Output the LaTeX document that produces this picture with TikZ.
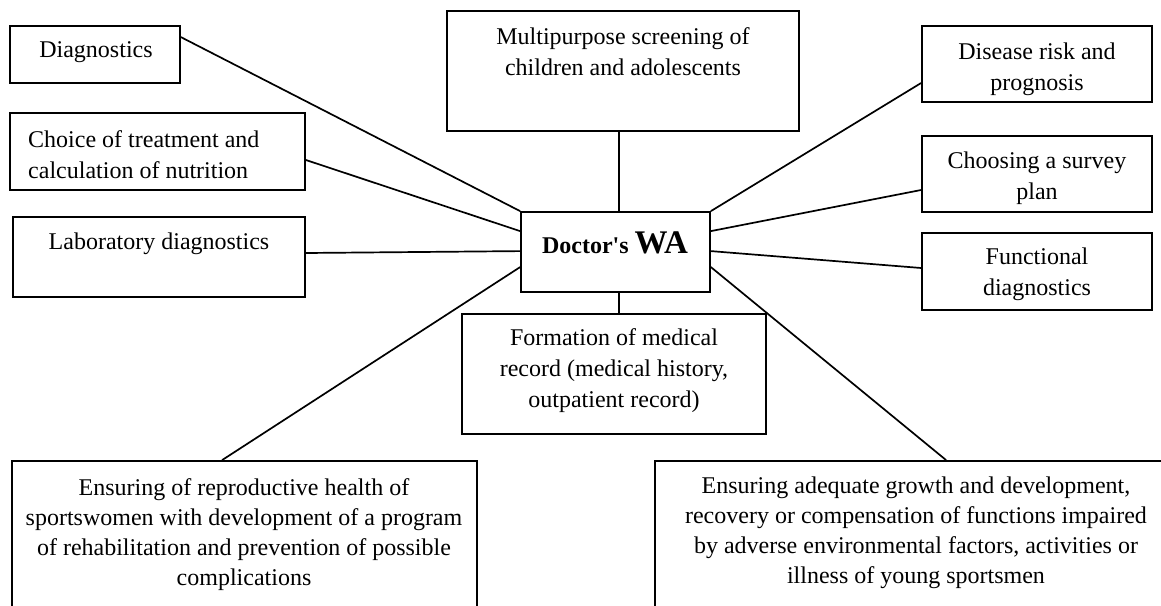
\documentclass[tikz,border=0pt]{standalone}
\usepackage{fontspec}
\setmainfont{Liberation Serif}[Ligatures=TeXOff]
\usetikzlibrary{calc}
\begin{document}
\begin{tikzpicture}[x=1pt,y=-1pt,
  box/.style={draw, line width=1.8pt, inner sep=0pt},
  txt/.style={font=\fontsize{24}{31}\selectfont, align=center, inner sep=0pt},
  link/.style={line width=1.7pt}]
\useasboundingbox (0,0) rectangle (1161,605);
\clip (0,0) rectangle (1161,605);
% boxes
\node[box, minimum width=170pt, minimum height=57pt] (diag) at (95,54.5) {};
\node[box, minimum width=295pt, minimum height=77pt] (choice) at (157.5,151.5) {};
\node[box, minimum width=292pt, minimum height=80pt] (lab) at (159,257) {};
\node[box, minimum width=352pt, minimum height=120pt] (multi) at (623,71) {};
\node[box, minimum width=189pt, minimum height=80pt] (c) at (615.5,252) {};
\node[box, minimum width=230pt, minimum height=76pt] (dis) at (1037,64) {};
\node[box, minimum width=230pt, minimum height=76pt] (surv) at (1037,174) {};
\node[box, minimum width=230pt, minimum height=77pt] (func) at (1037,271.5) {};
\node[box, minimum width=304pt, minimum height=120pt] (form) at (614,374) {};
\node[box, minimum width=465pt, minimum height=198pt] (bl) at (244.5,560) {};
\node[box, minimum width=520pt, minimum height=198pt] (br) at (915,560) {};
% texts
\node[txt] (diagT) at (96,52) {Diagnostics};
\node[txt, align=left, anchor=west] (choiceT) at (28,155) {Choice of treatment and\\calculation of nutrition};
\node[txt] (labT) at (159,244) {Laboratory diagnostics};
\node[txt] (multiT) at (623,52) {Multipurpose screening of\\children and adolescents};
\node[txt] (cT) at (615,243) {\bfseries Doctor's {\fontsize{33}{34}\selectfont WA}};
\node[txt] (disT) at (1037,69) {Disease risk and\\prognosis};
\node[txt] (survT) at (1037,178) {Choosing a survey\\plan};
\node[txt] (funcT) at (1037,274) {Functional\\diagnostics};
\node[txt] (formT) at (614,371) {Formation of medical\\record (medical history,\\outpatient record)};
\node[txt, font=\fontsize{24}{30}\selectfont] (blT) at (244,535) {Ensuring of reproductive health of\\sportswomen with development of a program\\of rehabilitation and prevention of possible\\complications};
\node[txt, font=\fontsize{24}{30}\selectfont] (brT) at (916,533) {Ensuring adequate growth and development,\\recovery or compensation of functions impaired\\by adverse environmental factors, activities or\\illness of young sportsmen};
% connectors
\draw[link] ($(diag.north east)+(0,12)$) -- (c.north west);
\draw[link] ($(choice.east)+(0,8.5)$) -- ($(c.north west)+(0,20)$);
\draw[link] ($(lab.east)+(0,-4)$) -- ($(c.north west)+(0,40)$);
\draw[link] ($(c.north west)+(0,56)$) -- ($(bl.north west)+(211,0)$);
\draw[link] ($(multi.south)+(-4,0)$) -- ($(c.north)+(3.5,0)$);
\draw[link] ($(c.south)+(3.5,0)$) -- ($(form.north)+(5,0)$);
\draw[link] (c.north east) -- ($(dis.west)+(0,19)$);
\draw[link] ($(c.north east)+(0,20)$) -- ($(surv.west)+(0,16)$);
\draw[link] ($(c.north east)+(0,40)$) -- ($(func.west)+(0,-3.5)$);
\draw[link] ($(c.north east)+(0,56)$) -- ($(br.north west)+(292,0)$);
\end{tikzpicture}
\end{document}
